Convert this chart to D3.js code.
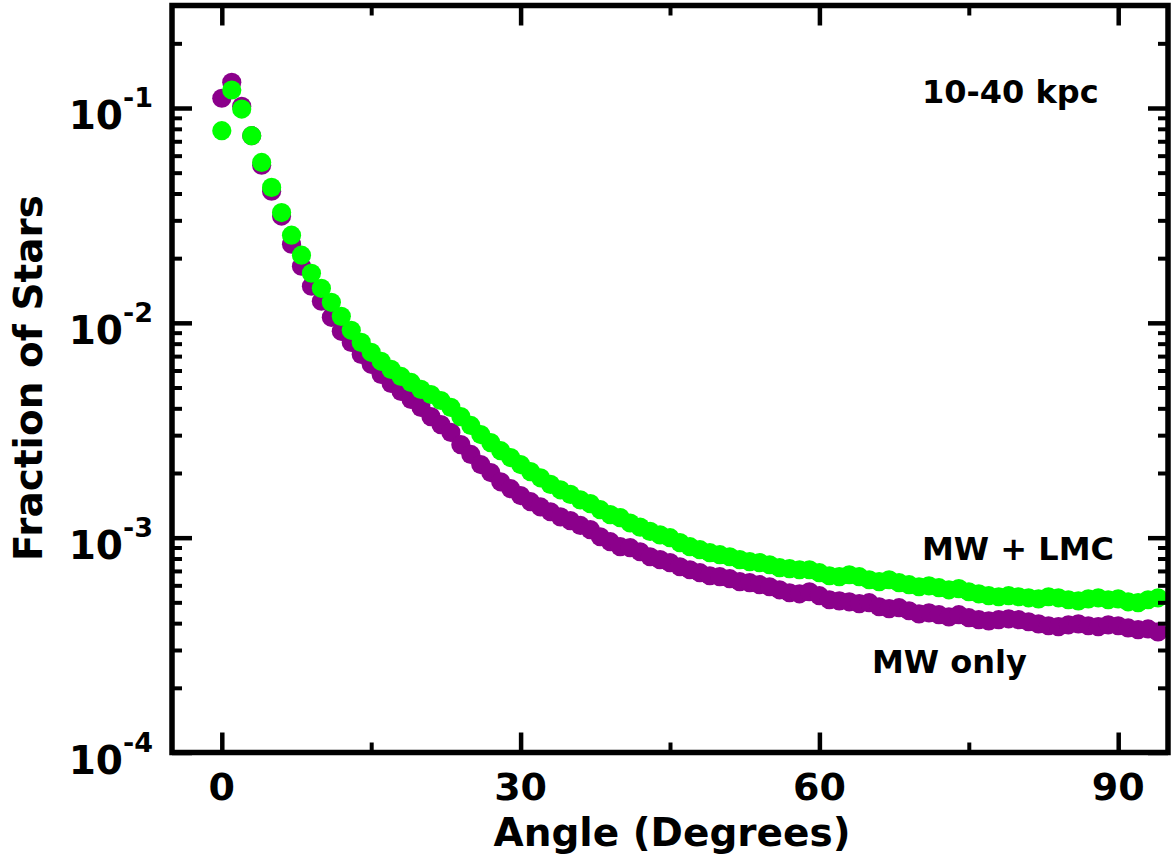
<!DOCTYPE html>
<html><head><meta charset="utf-8">
<script src="https://cdn.jsdelivr.net/npm/d3@7"></script>
<style>
body{margin:0;background:#fff}
svg{display:block}
text{font-family:"DejaVu Sans",sans-serif;font-weight:bold;fill:#000}
</style>
</head><body>
<svg id="c" width="1172" height="860"></svg>
<script>
// ---------------- data ----------------
const angles = [0,1,2,3,4,5,6,7,8,9,10,11,12,13,14,15,16,17,18,19,20,21,22,23,24,25,26,27,28,29,30,31,32,33,34,35,36,37,38,39,40,41,42,43,44,45,46,47,48,49,50,51,52,53,54,55,56,57,58,59,60,61,62,63,64,65,66,67,68,69,70,71,72,73,74,75,76,77,78,79,80,81,82,83,84,85,86,87,88,89,90,91,92,93,94];

const mwOnly = [0.1110,0.1318,0.1018,0.0743,0.0542,0.0410,0.0314,0.02323,0.01834,0.01480,
0.01260,0.01061,0.00913,0.00811,0.00713,0.00641,0.00575,0.00522,0.00479,0.00440,
0.00404,0.00366,0.00336,0.00309,0.00271,0.00244,0.00219,0.00201,0.00182,0.00169,
0.00157,0.00147,0.00139,0.00132,0.00125,0.00120,0.00114,0.00109,0.00101,0.000958,
0.000908,0.000898,0.000860,0.000815,0.000790,0.000765,0.000732,0.000709,0.000687,0.000665,
0.000658,0.000644,0.000624,0.000617,0.000604,0.000591,0.000572,0.000554,0.000548,0.000560,
0.000537,0.000514,0.000508,0.000503,0.000493,0.000498,0.000477,0.000467,0.000472,0.000457,
0.000442,0.000447,0.000438,0.000428,0.000438,0.000424,0.000415,0.000410,0.000415,0.000419,
0.000415,0.000406,0.000397,0.000389,0.000385,0.000393,0.000397,0.000389,0.000385,0.000393,
0.000389,0.000380,0.000373,0.000376,0.000364];

const mwLmc = [0.0784,0.1213,0.0989,0.0743,0.0558,0.0427,0.0326,0.02558,0.02064,0.01701,
0.01448,0.01246,0.01072,0.00923,0.00811,0.00729,0.00662,0.00607,0.00563,0.00528,
0.00490,0.00464,0.00435,0.00404,0.00366,0.00333,0.00302,0.00277,0.00254,0.00236,
0.00219,0.00203,0.00190,0.00177,0.00167,0.00159,0.00150,0.00144,0.00135,0.00128,
0.00124,0.00117,0.00112,0.00107,0.00103,0.00100,0.000948,0.000908,0.000879,0.000851,
0.000833,0.000815,0.000790,0.000773,0.000765,0.000748,0.000725,0.000717,0.000709,0.000709,
0.000687,0.000665,0.000658,0.000672,0.000658,0.000637,0.000624,0.000637,0.000617,0.000604,
0.000591,0.000597,0.000585,0.000572,0.000579,0.000560,0.000548,0.000537,0.000531,0.000537,
0.000531,0.000525,0.000519,0.000531,0.000525,0.000514,0.000508,0.000519,0.000525,0.000514,
0.000519,0.000503,0.000498,0.000514,0.000525];

const xTicks = [0,30,60,90];
const xTickLabels = ["0","30","60","90"];
const xMinorTicks = [15,45,75];
const yTicks = [1e-4,1e-3,1e-2,1e-1];
const yTickBase = ["10","10","10","10"];
const yTickExp = ["-4","-3","-2","-1"];
const xLabel = "Angle (Degrees)";
const yLabel = "Fraction of Stars";
const noteRange = "10-40 kpc";
const noteLmc = "MW + LMC";
const noteMw = "MW only";

// ---------------- layout ----------------
const svg = d3.select("#c");
const M = {l:172, r:1168, t:5.5, b:752.5};
const x = d3.scaleLinear().domain([-5,95]).range([M.l, M.r]);
const y = d3.scaleLog().domain([1e-4,0.3]).range([M.b, M.t]);

const yMinor = [];
for (let e=-4; e<=-1; e++) for (let m=2; m<=9; m++) {
  const v = m*Math.pow(10,e);
  if (v < 0.3) yMinor.push(v);
}

// points
const plot = svg.append("g");
plot.selectAll("circle.mw").data(angles).join("circle")
  .attr("class","mw")
  .attr("cx", (d)=>x(d)).attr("cy", (d,i)=>y(mwOnly[i]))
  .attr("r", 9.6).attr("fill", "#8b008b");
plot.selectAll("circle.lmc").data(angles).join("circle")
  .attr("class","lmc")
  .attr("cx", (d)=>x(d)).attr("cy", (d,i)=>y(mwLmc[i]))
  .attr("r", 9.6).attr("fill", "#00ff00");

// ticks
function tickAxis(axisFn, scale, vals, size, tr, sw){
  const g = svg.append("g").attr("transform", tr)
    .call(axisFn(scale).tickValues(vals).tickSize(size).tickFormat(""));
  g.select(".domain").remove();
  g.selectAll(".tick line").attr("stroke","#000").attr("stroke-width",sw);
  g.selectAll(".tick text").remove();
}
tickAxis(d3.axisBottom, x, xTicks, -20, `translate(0,${M.b})`, 4.5);
tickAxis(d3.axisBottom, x, xMinorTicks, -10, `translate(0,${M.b})`, 4);
tickAxis(d3.axisTop, x, xTicks, -20, `translate(0,${M.t})`, 4.5);
tickAxis(d3.axisTop, x, xMinorTicks, -10, `translate(0,${M.t})`, 4);
tickAxis(d3.axisLeft, y, yTicks, -20, `translate(${M.l},0)`, 4.5);
tickAxis(d3.axisLeft, y, yMinor, -10, `translate(${M.l},0)`, 4);
tickAxis(d3.axisRight, y, yTicks, -20, `translate(${M.r},0)`, 4.5);
tickAxis(d3.axisRight, y, yMinor, -10, `translate(${M.r},0)`, 4);

// frame
svg.append("rect").attr("x",M.l).attr("y",M.t)
  .attr("width",M.r-M.l).attr("height",M.b-M.t)
  .attr("fill","none").attr("stroke","#000").attr("stroke-width",5.5);

// tick labels
svg.append("g").selectAll("text").data(xTicks).join("text")
  .attr("x", d=>x(d)).attr("y", 800)
  .attr("text-anchor","middle").attr("font-size",38)
  .text((d,i)=>xTickLabels[i]);

const yl = svg.append("g").selectAll("text").data(yTicks).join("text")
  .attr("x", 153).attr("y", d=>y(d)+21)
  .attr("text-anchor","end").attr("font-size",39);
yl.append("tspan").text((d,i)=>yTickBase[i]);
yl.append("tspan").attr("font-size",27).attr("dy",-22).text((d,i)=>yTickExp[i]);

// axis titles
svg.append("text").attr("x", 672).attr("y", 846)
  .attr("text-anchor","middle").attr("font-size",39).text(xLabel);
svg.append("text").attr("transform","translate(42,378) rotate(-90)")
  .attr("text-anchor","middle").attr("font-size",39).text(yLabel);

// annotations
svg.append("text").attr("x",922).attr("y",103).attr("font-size",32).text(noteRange);
svg.append("text").attr("x",922).attr("y",560).attr("font-size",32).text(noteLmc);
svg.append("text").attr("x",872).attr("y",673).attr("font-size",32).text(noteMw);
</script>
</body></html>
